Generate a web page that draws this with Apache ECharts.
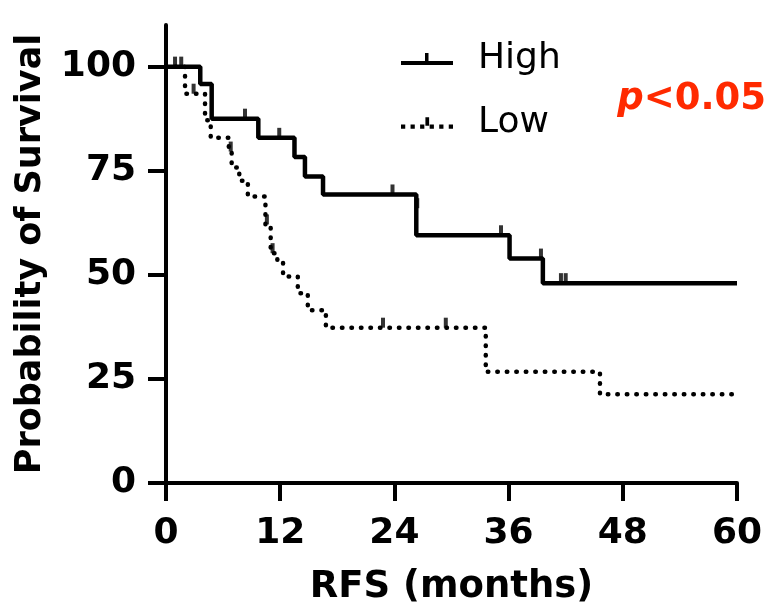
<!DOCTYPE html>
<html lang="en">
<head>
    <meta charset="UTF-8">
    <title>RFS Kaplan-Meier</title>
    <script src="https://cdn.jsdelivr.net/npm/echarts@6/dist/echarts.min.js"></script>
    <style>
        html, body { margin: 0; padding: 0; background: #fff; }
        #main { width: 771px; height: 606px; }
    </style>
</head>
<body>
    <div id="main"></div>
    <script type="text/javascript">
        // step times (months) and survival (%)
        var highTimes = [0, 3.6, 4.8, 9.7, 13.5, 14.6, 16.5, 26.3, 36.1, 39.6, 60];
        var highSurv  = [100, 95.8, 87.5, 82.9, 78.3, 73.6, 69.3, 59.5, 53.9, 48.0, 48.0];
        var lowTimes = [0, 2.0, 4.1, 4.7, 6.6, 6.9, 7.7, 8.6, 10.45, 11.0, 11.7, 12.3, 13.85, 14.9, 16.8, 33.6, 45.6, 60];
        var lowSurv  = [100, 93.5, 87.1, 82.9, 79.6, 75.8, 72.6, 68.8, 62.1, 55.2, 53.5, 49.6, 45.6, 41.5, 37.3, 26.7, 21.3, 21.3];

        // censored observations
        var highCensT = [0.95, 1.6, 8.3, 11.9, 23.8, 26.4, 35.2, 39.4, 41.5, 42.0];
        var highCensS = [100, 100, 87.5, 82.9, 69.3, 66.0, 59.5, 53.9, 48.0, 48.0];
        var lowCensT = [2.9, 6.8, 10.6, 11.2, 22.8, 29.4];
        var lowCensS = [93.5, 79.6, 62.1, 55.2, 37.3, 37.3];

        var xTicks = [0, 12, 24, 36, 48, 60];
        var yTicks = [0, 25, 50, 75, 100];

        function pairs(a, b) {
            return a.map(function (v, i) { return [v, b[i]]; });
        }

        // legend icons: line with a censor tick (52 x 14 box)
        var solidIcon = 'path://M0,9h52v4h-52z M24,1h3.5v8h-3.5z';
        var dottedIcon = 'path://M1,9h4v4h-4z M10,9h4v4h-4z M19,9h4v4h-4z M28,9h4v4h-4z M37,9h4v4h-4z M46,9h4v4h-4z M24,2h3.5v8h-3.5z';

        var font = 'DejaVu Sans';
        var myChart = echarts.init(document.getElementById('main'));
        var censorStyle = {
            type: 'scatter',
            symbol: 'rect',
            symbolSize: [4, 10],
            symbolOffset: [0, -5],
            itemStyle: { color: '#000' },
            silent: true,
            z: 3
        };

        var option = {
            animation: false,
            grid: { left: 166, right: 34, top: 25, bottom: 123, outerBoundsMode: 'none' },
            title: {
                text: '{p|p}{r|<0.05}',
                right: 0,
                top: 76,
                textStyle: {
                    rich: {
                        p: { fontFamily: font, fontSize: 37, fontWeight: 'bold', fontStyle: 'italic', color: '#ff2a00' },
                        r: { fontFamily: font, fontSize: 37, fontWeight: 'bold', color: '#ff2a00' }
                    }
                }
            },
            legend: {
                data: [
                    { name: 'High', icon: solidIcon },
                    { name: 'Low', icon: dottedIcon }
                ],
                orient: 'vertical',
                left: 396,
                top: 36,
                itemWidth: 52,
                itemHeight: 14,
                itemGap: 28,
                textStyle: {
                    fontFamily: font,
                    fontSize: 36,
                    color: '#000',
                    padding: [0, 0, 0, 20]
                }
            },
            xAxis: {
                type: 'value',
                min: 0,
                max: 60,
                interval: 12,
                name: 'RFS (months)',
                nameLocation: 'middle',
                nameGap: 86,
                nameTextStyle: { fontFamily: font, fontSize: 37, fontWeight: 'bold', color: '#000' },
                splitLine: { show: false },
                axisLine: { lineStyle: { color: '#000', width: 4 } },
                axisTick: { length: 18, lineStyle: { color: '#000', width: 4 }, customValues: xTicks },
                axisLabel: { margin: 33, fontFamily: font, fontSize: 36, fontWeight: 'bold', color: '#000', customValues: xTicks }
            },
            yAxis: {
                type: 'value',
                min: 0,
                max: 110,
                interval: 25,
                name: 'Probability of Survival',
                nameLocation: 'middle',
                nameGap: 118,
                nameTextStyle: { fontFamily: font, fontSize: 35, fontWeight: 'bold', color: '#000' },
                splitLine: { show: false },
                axisLine: { show: true, lineStyle: { color: '#000', width: 4 } },
                axisTick: { show: true, length: 18, lineStyle: { color: '#000', width: 4 }, customValues: yTicks },
                axisLabel: { margin: 30, fontFamily: font, fontSize: 36, fontWeight: 'bold', color: '#000', customValues: yTicks }
            },
            series: [
                {
                    name: 'Low',
                    type: 'line',
                    step: 'end',
                    data: pairs(lowTimes, lowSurv),
                    showSymbol: false,
                    itemStyle: { color: '#000' },
                    lineStyle: { color: '#000', width: 4.5, type: [0.5, 9], cap: 'round' },
                    z: 2
                },
                {
                    name: 'High',
                    type: 'line',
                    step: 'end',
                    data: pairs(highTimes, highSurv),
                    showSymbol: false,
                    itemStyle: { color: '#000' },
                    lineStyle: { color: '#000', width: 4.5 },
                    z: 2
                },
                Object.assign({ name: 'High censored', data: pairs(highCensT, highCensS) }, censorStyle),
                Object.assign({ name: 'Low censored', data: pairs(lowCensT, lowCensS) }, censorStyle)
            ]
        };

        myChart.setOption(option);
    </script>
</body>
</html>
